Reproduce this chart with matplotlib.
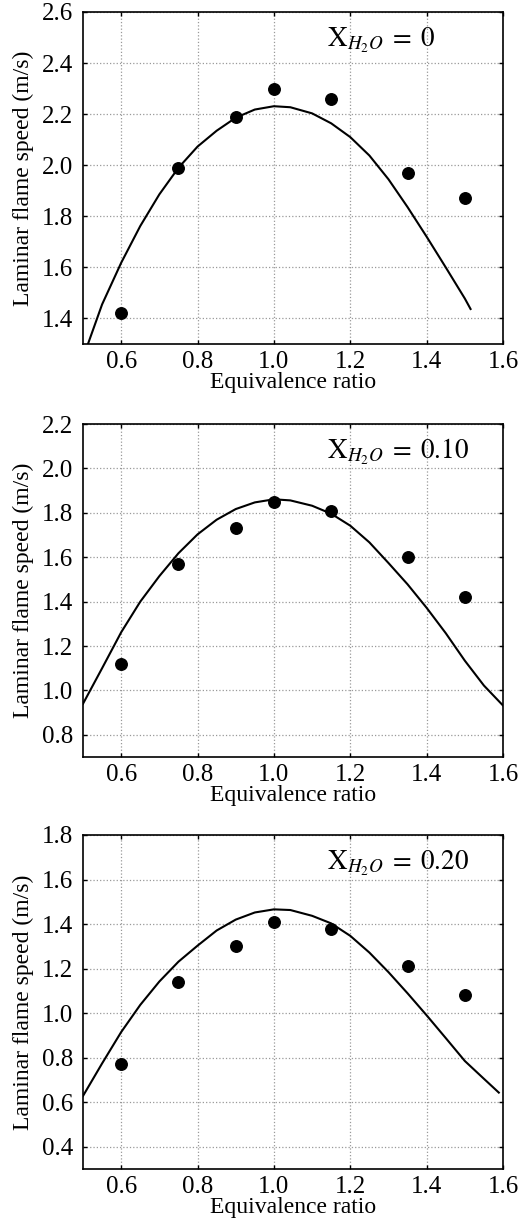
import matplotlib
matplotlib.use("Agg")
import matplotlib.pyplot as plt

plt.rcParams['font.family'] = ['Liberation Serif', 'DejaVu Serif']
plt.rcParams['mathtext.fontset'] = 'stix'

# Measured data points (equivalence ratio vs laminar flame speed)
phi_pts = [0.6, 0.75, 0.9, 1.0, 1.15, 1.35, 1.5]
sl_pts_0 = [1.42, 1.99, 2.19, 2.30, 2.26, 1.97, 1.87]
sl_pts_10 = [1.12, 1.57, 1.73, 1.85, 1.81, 1.60, 1.42]
sl_pts_20 = [0.77, 1.14, 1.30, 1.41, 1.38, 1.21, 1.08]

# Simulated curves
phi_c0 = [0.513, 0.55, 0.6, 0.65, 0.7, 0.75, 0.8, 0.85, 0.9, 0.95, 1.0, 1.043,
          1.1, 1.15, 1.2, 1.25, 1.3, 1.35, 1.4, 1.45, 1.5, 1.515]
sl_c0 = [1.30, 1.455, 1.618, 1.762, 1.886, 1.99, 2.073, 2.135, 2.186, 2.218, 2.231, 2.227,
         2.203, 2.164, 2.11, 2.038, 1.945, 1.836, 1.72, 1.6, 1.478, 1.437]

phi_c10 = [0.5, 0.55, 0.6, 0.65, 0.7, 0.75, 0.8, 0.85, 0.9, 0.95, 1.0, 1.043,
           1.1, 1.15, 1.2, 1.25, 1.3, 1.35, 1.4, 1.45, 1.5, 1.55, 1.6]
sl_c10 = [0.94, 1.10, 1.262, 1.40, 1.515, 1.618, 1.703, 1.769, 1.817, 1.847, 1.861, 1.856,
          1.832, 1.796, 1.742, 1.667, 1.574, 1.478, 1.372, 1.258, 1.134, 1.022, 0.932]

phi_c20 = [0.5, 0.55, 0.6, 0.65, 0.7, 0.75, 0.8, 0.85, 0.9, 0.95, 1.0, 1.043,
           1.1, 1.15, 1.2, 1.25, 1.3, 1.35, 1.4, 1.45, 1.5, 1.55, 1.589]
sl_c20 = [0.628, 0.774, 0.915, 1.037, 1.142, 1.231, 1.303, 1.371, 1.42, 1.452, 1.466, 1.463,
          1.437, 1.403, 1.347, 1.272, 1.184, 1.089, 0.99, 0.888, 0.785, 0.705, 0.643]

labels = [r'$\mathrm{X}_{H_2O}\;=\;0$', r'$\mathrm{X}_{H_2O}\;=\;0.10$',
          r'$\mathrm{X}_{H_2O}\;=\;0.20$']
ylims = [(1.3, 2.6), (0.7, 2.2), (0.3, 1.8)]
yticks = [[1.4, 1.6, 1.8, 2.0, 2.2, 2.4, 2.6],
          [0.8, 1.0, 1.2, 1.4, 1.6, 1.8, 2.0, 2.2],
          [0.4, 0.6, 0.8, 1.0, 1.2, 1.4, 1.6, 1.8]]
xticks = [0.6, 0.8, 1.0, 1.2, 1.4, 1.6]

fig = plt.figure(figsize=(5.26, 12.22), dpi=100)
positions = [[0.1578, 0.7185, 0.7985, 0.2717],
             [0.1578, 0.3805, 0.7985, 0.2725],
             [0.1578, 0.0434, 0.7985, 0.2733]]

curves = [(phi_c0, sl_c0), (phi_c10, sl_c10), (phi_c20, sl_c20)]
pts = [sl_pts_0, sl_pts_10, sl_pts_20]

for i in range(3):
    ax = fig.add_axes(positions[i])
    ax.plot(curves[i][0], curves[i][1], color='black', lw=1.5, zorder=3,
            solid_joinstyle='round')
    ax.plot(phi_pts, pts[i], 'o', color='black', ms=8.3, zorder=4)
    ax.set_xlim(0.5, 1.6)
    ax.set_ylim(*ylims[i])
    ax.set_xticks(xticks)
    ax.set_xticklabels([f'{t:.1f}' for t in xticks])
    ax.set_yticks(yticks[i])
    ax.set_yticklabels([f'{t:.1f}' for t in yticks[i]])
    ax.grid(True, linestyle=':', color='#999999', lw=0.9)
    ax.tick_params(direction='in', length=3, width=1, top=True, right=True,
                   labelsize=18)
    ax.tick_params(axis='y', pad=7)
    ax.tick_params(axis='x', pad=5)
    for s in ax.spines.values():
        s.set_linewidth(1.2)
    ax.set_xlabel('Equivalence ratio', fontsize=17, labelpad=-1)
    ax.set_ylabel('Laminar flame speed (m/s)', fontsize=17, labelpad=6)
    ax.text(0.58, 0.915, labels[i], transform=ax.transAxes, fontsize=19.5,
            ha='left', va='center')

fig.savefig('out.png', dpi=100)
